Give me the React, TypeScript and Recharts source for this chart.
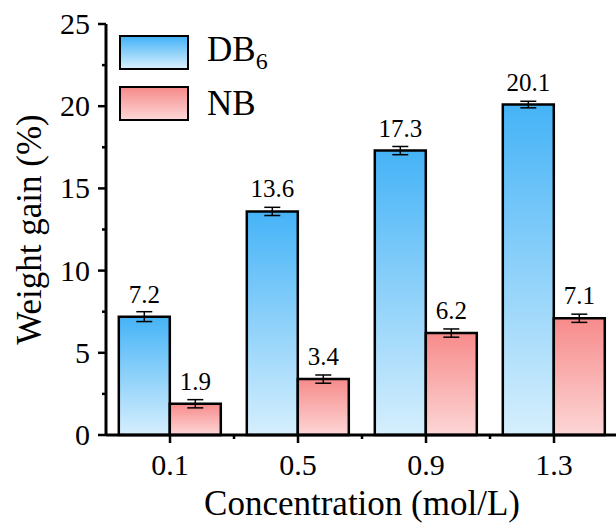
import { BarChart, Bar, XAxis, YAxis, ErrorBar, LabelList, Legend } from "recharts"

const categories = ["0.1", "0.5", "0.9", "1.3"]
const db6Values = [7.2, 13.6, 17.3, 20.1]
const db6Errors = [0.3, 0.25, 0.25, 0.2]
const nbValues = [1.9, 3.4, 6.2, 7.1]
const nbErrors = [0.25, 0.25, 0.25, 0.25]
const yTicks = [0, 2.5, 5, 7.5, 10, 12.5, 15, 17.5, 20, 22.5, 25]

const data = categories.map((cat, i) => ({
  cat,
  db6: db6Values[i],
  db6Err: db6Errors[i],
  nb: nbValues[i],
  nbErr: nbErrors[i],
}))

const FONT = "Liberation Serif, Times New Roman, serif"
const CHART_W = 620
const CHART_H = 528
const TOP = 24
const X_AXIS_H = 93
const Y_AXIS_W = 106
const RIGHT = 2
const BAND = (CHART_W - Y_AXIS_W - RIGHT) / categories.length
const PLOT_MID_Y = TOP + (CHART_H - TOP - X_AXIS_H) / 2

const series = [
  { key: "db6", top: "#45b3f7", bottom: "#d6effd" },
  { key: "nb", top: "#f78b8b", bottom: "#fdd6d6" },
]

// y ticks: major every 5 with labels, minor at 2.5 without
const YTick = (props: any) => {
  const { x, y, payload } = props
  const major = payload.value % 5 === 0
  return (
    <g>
      <line x1={x} x2={x - (major ? 8 : 4)} y1={y} y2={y} stroke="#000" strokeWidth={2.5} />
      {major && (
        <text x={x - 16} y={y + 10} textAnchor="end" fontSize={30} fontFamily={FONT} fill="#000">
          {payload.value}
        </text>
      )}
    </g>
  )
}

// x ticks: major at category centre, minor halfway to the next one
const XTick = (props: any) => {
  const { x, y, payload, index } = props
  return (
    <g>
      <line x1={x} x2={x} y1={y} y2={y + 8} stroke="#000" strokeWidth={2.5} />
      {index < categories.length - 1 && (
        <line x1={x + BAND / 2} x2={x + BAND / 2} y1={y} y2={y + 4} stroke="#000" strokeWidth={2.5} />
      )}
      <text x={x} y={y + 40} textAnchor="middle" fontSize={30} fontFamily={FONT} fill="#000">
        {payload.value}
      </text>
    </g>
  )
}

const XLabel = (props: any) => {
  const { viewBox } = props
  const cx = viewBox.x + viewBox.width / 2
  return (
    <text x={cx} y={viewBox.y + 80} textAnchor="middle" fontSize={35} fontFamily={FONT} fill="#000">
      Concentration (mol/L)
    </text>
  )
}

const renderLegend = () => (
  <div style={{ fontFamily: FONT, fontSize: 35, color: "#000" }}>
    {series.map((s) => (
      <div key={s.key} style={{ display: "flex", alignItems: "center", height: 51 }}>
        <div
          style={{
            width: 70,
            height: 35,
            boxSizing: "border-box",
            border: "2.5px solid #000",
            background: `linear-gradient(to bottom, ${s.top}, ${s.bottom})`,
          }}
        />
        <span style={{ marginLeft: 18, lineHeight: 1 }}>
          {s.key === "db6" ? (
            <>
              DB<sub style={{ fontSize: 24, verticalAlign: "-8px" }}>6</sub>
            </>
          ) : (
            "NB"
          )}
        </span>
      </div>
    ))}
  </div>
)

export default function App() {
  return (
    <div style={{ position: "absolute", left: 0, top: 0, width: 616, height: 528, overflow: "hidden", background: "#fff", fontFamily: FONT }}>
      <BarChart
        width={CHART_W}
        height={CHART_H}
        data={data}
        margin={{ top: TOP, right: RIGHT, bottom: 0, left: 0 }}
        barCategoryGap="10%"
        barGap={0}
      >
        <defs>
          {series.map((s) => (
            <linearGradient key={s.key} id={`grad-${s.key}`} x1="0" y1="0" x2="0" y2="1">
              <stop offset="0%" stopColor={s.top} />
              <stop offset="100%" stopColor={s.bottom} />
            </linearGradient>
          ))}
        </defs>
        <XAxis
          dataKey="cat"
          height={X_AXIS_H}
          axisLine={{ stroke: "#000", strokeWidth: 3 }}
          tickLine={false}
          tickSize={0}
          tickMargin={0}
          tick={<XTick />}
          label={<XLabel />}
        />
        <XAxis
          xAxisId="top"
          dataKey="cat"
          orientation="top"
          height={0}
          axisLine={{ stroke: "#000", strokeWidth: 3 }}
          tick={false}
          tickLine={false}
        />
        <YAxis
          width={Y_AXIS_W}
          domain={[0, 25]}
          ticks={yTicks}
          interval={0}
          axisLine={{ stroke: "#000", strokeWidth: 3 }}
          tickLine={false}
          tickSize={0}
          tickMargin={0}
          tick={<YTick />}
        />
        <Legend
          layout="vertical"
          align="center"
          verticalAlign="middle"
          content={renderLegend}
          wrapperStyle={{ left: 119, top: 27, width: 220, height: 110 }}
        />
        <Bar dataKey="db6" name="DB6" fill="url(#grad-db6)" stroke="#000" strokeWidth={2.5} isAnimationActive={false}>
          <ErrorBar dataKey="db6Err" width={8} stroke="#000" strokeWidth={1.5} direction="y" />
          <LabelList dataKey="db6" position="top" offset={14} fontSize={25} fontFamily={FONT} fill="#000" />
        </Bar>
        <Bar dataKey="nb" name="NB" fill="url(#grad-nb)" stroke="#000" strokeWidth={2.5} isAnimationActive={false}>
          <ErrorBar dataKey="nbErr" width={8} stroke="#000" strokeWidth={1.5} direction="y" />
          <LabelList dataKey="nb" position="top" offset={14} fontSize={25} fontFamily={FONT} fill="#000" />
        </Bar>
      </BarChart>
      {/* y axis title */}
      <div
        style={{
          position: "absolute",
          left: 29 - 200,
          top: PLOT_MID_Y - 17.5,
          width: 400,
          height: 35,
          lineHeight: "35px",
          fontSize: 35,
          textAlign: "center",
          whiteSpace: "nowrap",
          transform: "rotate(-90deg)",
          color: "#000",
        }}
      >
        Weight gain (%)
      </div>
    </div>
  )
}
